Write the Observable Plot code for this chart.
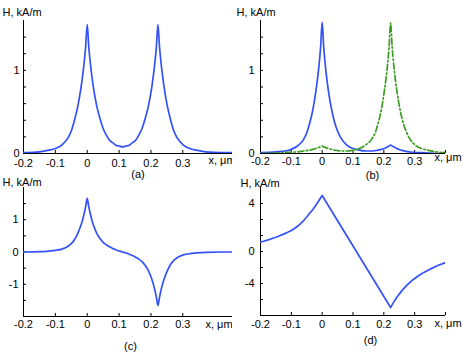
<!DOCTYPE html>
<html><head><meta charset="utf-8">
<script src="https://cdn.jsdelivr.net/npm/d3@7"></script>
<script src="https://cdn.jsdelivr.net/npm/@observablehq/plot@0.6"></script>
<style>
html,body{margin:0;padding:0;background:#fff;}
#wrap{position:relative;width:463px;height:356px;overflow:hidden;background:#fff;}
.panel{position:absolute;}
</style></head><body><div id="wrap"></div>
<script>
// ---------- data ----------
const xA = [-0.2,-0.15,-0.12,-0.1,-0.08,-0.06,-0.05,-0.04,-0.03,-0.02,-0.015,-0.01,-0.005,0,0.005,0.01,0.015,0.02,0.03,0.04,0.05,0.06,0.07,0.08,0.09,0.1,0.111,0.122,0.132,0.142,0.152,0.162,0.172,0.182,0.192,0.202,0.207,0.212,0.217,0.222,0.227,0.232,0.237,0.242,0.252,0.262,0.272,0.282,0.302,0.322,0.342,0.372,0.42,0.46];
const yA = [0.01,0.02,0.04,0.06,0.1,0.19,0.27,0.4,0.56,0.78,0.92,1.08,1.28,1.55,1.28,1.08,0.92,0.78,0.57,0.42,0.3,0.22,0.16,0.13,0.1,0.09,0.08,0.09,0.1,0.13,0.16,0.22,0.3,0.42,0.57,0.78,0.92,1.08,1.28,1.55,1.28,1.08,0.92,0.78,0.56,0.4,0.27,0.19,0.1,0.06,0.04,0.02,0.01,0.01];

const xB = [-0.2,-0.15,-0.12,-0.1,-0.08,-0.06,-0.05,-0.04,-0.03,-0.02,-0.015,-0.01,-0.005,0,0.005,0.01,0.015,0.02,0.03,0.04,0.05,0.06,0.08,0.1,0.12,0.14,0.16,0.172,0.182,0.192,0.202,0.207,0.212,0.217,0.222,0.227,0.232,0.237,0.242,0.252,0.262,0.272,0.282,0.302,0.322,0.342,0.37,0.4];
const yBblue = [0.01,0.02,0.03,0.05,0.09,0.17,0.25,0.37,0.53,0.76,0.9,1.07,1.28,1.58,1.28,1.07,0.9,0.76,0.54,0.38,0.27,0.19,0.1,0.06,0.04,0.03,0.03,0.035,0.04,0.05,0.06,0.07,0.08,0.09,0.1,0.09,0.08,0.07,0.06,0.045,0.035,0.025,0.02,0.01,0.01,0.005,0,0];
const yBgreen = [0,0.005,0.01,0.015,0.02,0.03,0.035,0.04,0.05,0.06,0.065,0.075,0.08,0.09,0.08,0.075,0.065,0.06,0.05,0.04,0.035,0.03,0.03,0.04,0.06,0.1,0.17,0.25,0.37,0.53,0.76,0.9,1.07,1.28,1.57,1.28,1.07,0.9,0.76,0.54,0.38,0.27,0.19,0.1,0.06,0.04,0.02,0.01];

const xC = [-0.2,-0.15,-0.12,-0.1,-0.08,-0.06,-0.05,-0.04,-0.03,-0.02,-0.015,-0.01,-0.005,0,0.005,0.01,0.015,0.02,0.03,0.04,0.05,0.06,0.07,0.08,0.09,0.1,0.111,0.122,0.132,0.142,0.152,0.162,0.172,0.182,0.192,0.202,0.207,0.212,0.217,0.222,0.227,0.232,0.237,0.242,0.252,0.262,0.272,0.282,0.302,0.322,0.342,0.372,0.42,0.46];
const yC = [0,0.01,0.03,0.05,0.09,0.18,0.26,0.38,0.57,0.82,0.98,1.17,1.4,1.66,1.4,1.17,0.98,0.82,0.58,0.42,0.3,0.22,0.16,0.11,0.07,0.03,0,-0.03,-0.07,-0.11,-0.16,-0.22,-0.3,-0.42,-0.58,-0.82,-0.98,-1.17,-1.4,-1.66,-1.4,-1.17,-0.98,-0.82,-0.57,-0.38,-0.26,-0.18,-0.09,-0.05,-0.03,-0.01,0,0];

const xD = [-0.2,-0.19,-0.175,-0.16,-0.15,-0.14,-0.125,-0.11,-0.1,-0.09,-0.08,-0.07,-0.06,-0.05,-0.04,-0.03,-0.02,-0.01,0,0.111,0.222,0.23,0.24,0.25,0.26,0.275,0.29,0.3,0.315,0.33,0.35,0.375,0.4];
const yD = [0.78,0.85,0.97,1.1,1.19,1.29,1.45,1.62,1.75,1.92,2.1,2.32,2.58,2.87,3.2,3.5,3.88,4.27,4.67,0.0,-4.67,-4.3,-3.9,-3.55,-3.22,-2.8,-2.45,-2.25,-1.98,-1.74,-1.47,-1.17,-0.92];

// ---------- ticks ----------
const xTicksAC = [-0.2,-0.1,0,0.1,0.2,0.3];
const xLabelsAC = ["-0.2","-0.1","0","0.1","0.2","0.3"];
const xTicksBD = [-0.2,-0.1,0,0.1,0.2,0.3,0.4];
const xLabelsBD = ["-0.2","-0.1","0","0.1","0.2","0.3",""];
const yTicksAB = [0,0.2,0.4,0.6,0.8,1,1.2,1.4];
const yLabelsAB = ["0","","","","","1","",""];
const yTicksC = [-1.5,-1,-0.5,0,0.5,1,1.5];
const yLabelsC = ["","-1","","0","","1",""];
const yTicksD = [-4,-2.667,-1.333,0,1.333,2.667,4];
const yLabelsD = ["","-4","","0","","","4"];

const yTitle = "H, kA/m";
const xTitle = "x, μm";
const panelNames = ["(a)","(b)","(c)","(d)"];

// ---------- styles ----------
const BLUE = "#3352f7";
const GREEN = "#3a9e1f";
const FONT = "'Liberation Sans', Arial, Helvetica, sans-serif";

function rows(xs, ys) { return xs.map((x, i) => ({x, y: ys[i]})); }
function fmtMap(ticks, labels) { const m = new Map(ticks.map((t, i) => [t, labels[i]])); return d => m.get(d) ?? ""; }

function panel(cfg) {
  const marks = [
    Plot.ruleX([cfg.xDomain[0]], {stroke: "#000", strokeWidth: 1}),
    Plot.ruleY([cfg.yDomain[0]], {stroke: "#000", strokeWidth: 1}),
    Plot.axisX({ticks: cfg.xTicks, tickFormat: fmtMap(cfg.xTicks, cfg.xLabels), anchor: "bottom", tickSize: -3, tickPadding: cfg.xOff + 3, label: null, fill: "#000", stroke: "#000"}),
    Plot.axisY({ticks: cfg.yTicks, tickFormat: fmtMap(cfg.yTicks, cfg.yLabels), anchor: "left", tickSize: -3, tickPadding: cfg.yOff + 3, label: null, fill: "#000", stroke: "#000"}),
  ];
  for (const s of cfg.series) {
    marks.push(Plot.line(rows(s.x, s.y), {x: "x", y: "y", stroke: s.color, strokeWidth: 1.7, strokeDasharray: s.dash, curve: s.curve || "linear", clip: true}));
  }
  for (const t of cfg.texts) {
    marks.push(Plot.text([t.text], {frameAnchor: t.anchor, dx: t.dx, dy: t.dy, textAnchor: t.ta, fontSize: 11, fill: "#000"}));
  }
  const svg = Plot.plot({
    width: cfg.width, height: cfg.height,
    marginLeft: cfg.m[0], marginRight: cfg.m[1], marginTop: cfg.m[2], marginBottom: cfg.m[3],
    x: {domain: cfg.xDomain, label: null},
    y: {domain: cfg.yDomain, label: null},
    style: {background: "transparent", fontFamily: FONT, fontSize: "11px", color: "#000"},
    marks
  });
  const div = document.createElement("div");
  div.className = "panel";
  div.style.left = cfg.left + "px";
  div.style.top = cfg.top + "px";
  div.appendChild(svg);
  document.getElementById("wrap").appendChild(div);
}

panel({left: 0, top: 0, width: 232, height: 185, m: [23, 0, 20, 32],
  xDomain: [-0.2, 0.456], yDomain: [0, 1.6],
  xTicks: xTicksAC, xLabels: xLabelsAC, yTicks: yTicksAB, yLabels: yLabelsAB, xOff: 6, yOff: 4,
  series: [{x: xA, y: yA, color: BLUE, curve: "monotone-x"}],
  texts: [
    {text: yTitle, anchor: "top-left", dx: -21, dy: -12.5, ta: "start"},
    {text: xTitle, anchor: "bottom-right", dx: -24, dy: 10, ta: "start"},
    {text: panelNames[0], anchor: "bottom-left", dx: 114.5, dy: 24, ta: "middle"}
  ]});

panel({left: 232, top: 0, width: 231, height: 185, m: [28, 18, 20, 32],
  xDomain: [-0.2, 0.4], yDomain: [0, 1.6],
  xTicks: xTicksBD, xLabels: xLabelsBD, yTicks: yTicksAB, yLabels: yLabelsAB, xOff: 3.5, yOff: 6,
  series: [{x: xB, y: yBblue, color: BLUE, curve: "monotone-x"}, {x: xB, y: yBgreen, color: GREEN, dash: "6,2.5,1.5,2.5", curve: "monotone-x"}],
  texts: [
    {text: yTitle, anchor: "top-left", dx: -24, dy: -12.5, ta: "start"},
    {text: xTitle, anchor: "bottom-right", dx: -11, dy: 7, ta: "start"},
    {text: panelNames[1], anchor: "bottom-left", dx: 112, dy: 25, ta: "middle"}
  ]});

panel({left: 0, top: 170, width: 232, height: 186, m: [23, 0, 17, 40],
  xDomain: [-0.2, 0.456], yDomain: [-2, 2],
  xTicks: xTicksAC, xLabels: xLabelsAC, yTicks: yTicksC, yLabels: yLabelsC, xOff: 4, yOff: 5,
  series: [{x: xC, y: yC, color: BLUE, curve: "monotone-x"}],
  texts: [
    {text: yTitle, anchor: "top-left", dx: -21, dy: -9.5, ta: "start"},
    {text: xTitle, anchor: "bottom-right", dx: -27, dy: 11, ta: "start"},
    {text: panelNames[2], anchor: "bottom-left", dx: 107, dy: 33.5, ta: "middle"}
  ]});

panel({left: 232, top: 170, width: 231, height: 186, m: [28, 18, 17, 41],
  xDomain: [-0.2, 0.4], yDomain: [-5.333, 5.333],
  xTicks: xTicksBD, xLabels: xLabelsBD, yTicks: yTicksD, yLabels: yLabelsD, xOff: 4.5, yOff: 6,
  series: [{x: xD, y: yD, color: BLUE}],
  texts: [
    {text: yTitle, anchor: "top-left", dx: -20, dy: -8, ta: "start"},
    {text: xTitle, anchor: "bottom-right", dx: -11, dy: 11, ta: "start"},
    {text: panelNames[3], anchor: "bottom-left", dx: 110, dy: 28, ta: "middle"}
  ]});
</script></body></html>
